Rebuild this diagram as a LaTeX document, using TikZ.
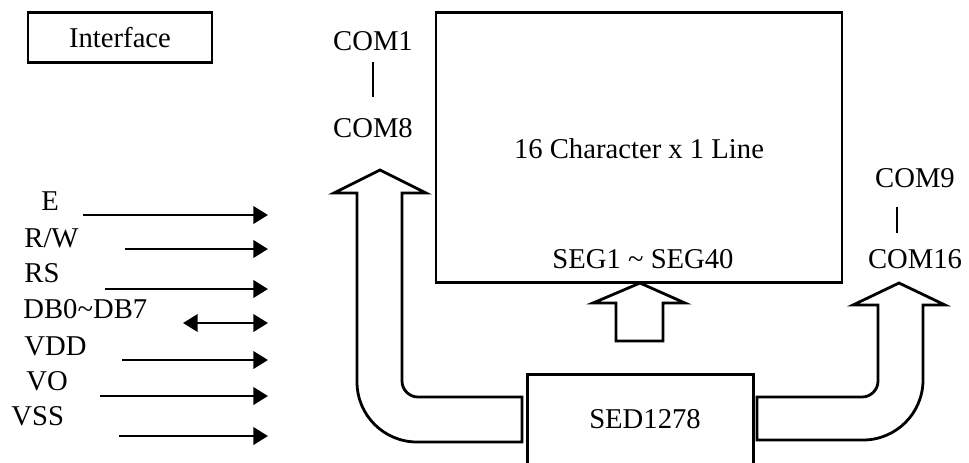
\documentclass[tikz,border=0pt]{standalone}
\usepackage{fontspec}
\setmainfont{Liberation Serif}
\usepackage{tikz}
\usetikzlibrary{positioning,arrows.meta}

\begin{document}
\begin{tikzpicture}[x=0.75pt,y=0.75pt,line width=2.1pt,
    every node/.style={font=\fontsize{21.5}{24}\selectfont, inner sep=0pt},
    sig/.style={-{Triangle[length=11pt,width=13pt]}},
    sigboth/.style={{Triangle[length=11pt,width=13pt]}-{Triangle[length=11pt,width=13pt]}}]
            \clip (0,0) rectangle (969,-462);
            \node[draw, minimum width=138pt, minimum height=38pt] (Iface) at (120,-37.5) {Interface};
            \node[anchor=base] (Com1) at (373,-50) {COM1};
            \node[anchor=base] (Com8) at (373,-137) {COM8};
            \draw (373,-62) to (373,-97);
            \node[draw, minimum width=304.5pt, minimum height=203pt] (LCD) at (639,-147.5) {};
            \node[anchor=base] (Disp) at (639,-158) {16 Character x 1 Line};
            \node[anchor=base] (Seg) at (643,-268) {SEG1 \char`\~{} SEG40};
            \node[anchor=base] (Com9) at (915,-187) {COM9};
            \node[anchor=base] (Com16) at (915,-268) {COM16};
            \draw (897,-207) to (897,-233);
            \node[draw, minimum width=169.5pt, minimum height=120pt, anchor=north west] (SED) at (526,-373) {};
            \node[anchor=base] (SedTxt) at (645,-428) {SED1278};
            \draw[line join=miter] (616,-341) -- (616,-303) -- (593,-303) -- (640,-283) -- (685,-303) -- (663,-303) -- (663,-341) -- cycle;
            \draw[line join=miter] (522,-397) -- (418,-397) arc[start angle=270, end angle=180, radius=16] -- (402,-193) -- (426,-193) -- (380,-170) -- (334,-193) -- (357,-193) -- (357,-382) arc[start angle=180, end angle=270, radius=60] -- (522,-442) -- cycle;
            \draw[line join=miter] (757,-397) -- (862,-397) arc[start angle=270, end angle=360, radius=16] -- (878,-305) -- (853,-305) -- (899,-283) -- (945,-305) -- (923,-305) -- (923,-380) arc[start angle=0, end angle=-90, radius=60] -- (757,-440) -- cycle;
            \node[anchor=base west] (E) at (40,-210) {E};
            \node[anchor=base west] (RW) at (23,-247) {R/W};
            \node[anchor=base west] (RS) at (23,-282) {RS};
            \node[anchor=base west] (DB) at (22,-318) {DB0\char`\~{}DB7};
            \node[anchor=base west] (VDD) at (23,-355) {VDD};
            \node[anchor=base west] (VO) at (25,-390) {VO};
            \node[anchor=base west] (VSS) at (10,-425) {VSS};
            \coordinate (Ea) at (83,-215);   \coordinate (Eb) at (268,-215);
            \coordinate (RWa) at (125,-249); \coordinate (RWb) at (268,-249);
            \coordinate (RSa) at (105,-289); \coordinate (RSb) at (268,-289);
            \coordinate (DBa) at (183,-323); \coordinate (DBb) at (268,-323);
            \coordinate (VDDa) at (122,-360); \coordinate (VDDb) at (268,-360);
            \coordinate (VOa) at (100,-396); \coordinate (VOb) at (268,-396);
            \coordinate (VSSa) at (119,-436); \coordinate (VSSb) at (268,-436);
            \draw[sig] (Ea) to (Eb);
            \draw[sig] (RWa) to (RWb);
            \draw[sig] (RSa) to (RSb);
            \draw[sigboth] (DBa) to (DBb);
            \draw[sig] (VDDa) to (VDDb);
            \draw[sig] (VOa) to (VOb);
            \draw[sig] (VSSa) to (VSSb);
          \end{tikzpicture}
\end{document}
